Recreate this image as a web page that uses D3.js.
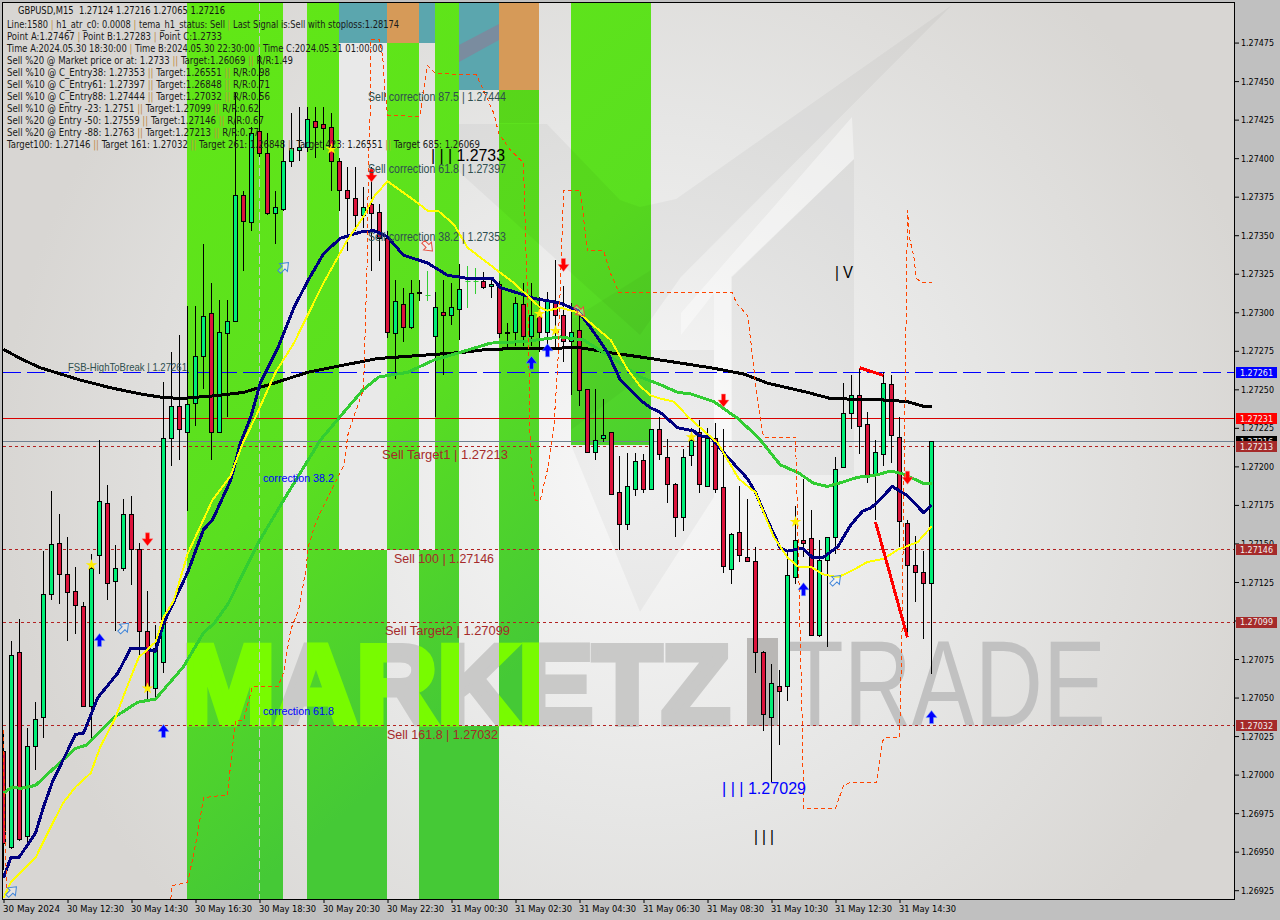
<!DOCTYPE html>
<html><head><meta charset="utf-8">
<script src="https://cdn.jsdelivr.net/npm/d3@7/dist/d3.min.js"></script>
<style>html,body{margin:0;padding:0;background:#c0c0c0;overflow:hidden}svg{display:block}</style>
</head><body><svg id="c" width="1280" height="920"></svg>
<script>
// ---------- DATA ----------
const opens=[1.27015,1.26953,1.27079,1.26960,1.27018,1.27037,1.27117,1.27150,1.27130,1.27119,1.27109,1.27044,1.27142,1.27176,1.27125,1.27134,1.27169,1.27146,1.27093,1.27056,1.27073,1.27218,1.27239,1.27222,1.27241,1.27271,1.27299,1.27222,1.27286,1.27294,1.27376,1.27358,1.27417,1.27403,1.27364,1.27367,1.27398,1.27405,1.27407,1.27424,1.27422,1.27420,1.27398,1.27379,1.27374,1.27363,1.27370,1.27365,1.27348,1.27286,1.27305,1.27290,1.27313,1.27311,1.27284,1.27300,1.27298,1.27302,1.27320,1.27320,1.27320,1.27317,1.27318,1.27286,1.27287,1.27305,1.27284,1.27297,1.27287,1.27306,1.27298,1.27281,1.27288,1.27250,1.27209,1.27218,1.27222,1.27183,1.27162,1.27185,1.27204,1.27185,1.27224,1.27206,1.27188,1.27167,1.27207,1.27222,1.27187,1.27218,1.27186,1.27133,1.27157,1.27141,1.27138,1.27079,1.27037,1.27057,1.27057,1.27128,1.27152,1.27153,1.27090,1.27139,1.27154,1.27199,1.27234,1.27246,1.27227,1.27194,1.27208,1.27253,1.27219,1.27163,1.27136,1.27131,1.27124];
const highs=[1.27029,1.27087,1.27101,1.27030,1.27047,1.27145,1.27184,1.27169,1.27154,1.27135,1.27112,1.27143,1.27217,1.27188,1.27149,1.27179,1.27181,1.27150,1.27119,1.27097,1.27255,1.27274,1.27285,1.27304,1.27304,1.27344,1.27319,1.27308,1.27308,1.27442,1.27379,1.27420,1.27467,1.27416,1.27379,1.27412,1.27429,1.27433,1.27433,1.27433,1.27433,1.27429,1.27400,1.27394,1.27394,1.27381,1.27394,1.27370,1.27353,1.27321,1.27316,1.27321,1.27321,1.27327,1.27313,1.27321,1.27319,1.27331,1.27330,1.27329,1.27326,1.27323,1.27320,1.27293,1.27310,1.27319,1.27319,1.27310,1.27313,1.27334,1.27317,1.27306,1.27300,1.27250,1.27250,1.27244,1.27222,1.27207,1.27209,1.27209,1.27208,1.27224,1.27232,1.27218,1.27189,1.27211,1.27225,1.27230,1.27225,1.27228,1.27224,1.27157,1.27187,1.27179,1.27148,1.27080,1.27072,1.27068,1.27144,1.27174,1.27192,1.27172,1.27152,1.27154,1.27206,1.27254,1.27259,1.27263,1.27235,1.27217,1.27261,1.27259,1.27232,1.27165,1.27155,1.27145,1.27216];
const lows=[1.26938,1.26952,1.26957,1.26956,1.27003,1.27024,1.27113,1.27111,1.27087,1.27091,1.27044,1.27024,1.27130,1.27113,1.27093,1.27132,1.27123,1.27076,1.27049,1.27050,1.27066,1.27200,1.27204,1.27171,1.27226,1.27250,1.27204,1.27222,1.27232,1.27294,1.27327,1.27353,1.27401,1.27363,1.27344,1.27366,1.27394,1.27398,1.27404,1.27400,1.27405,1.27379,1.27366,1.27340,1.27353,1.27355,1.27327,1.27333,1.27283,1.27257,1.27281,1.27289,1.27307,1.27307,1.27232,1.27259,1.27292,1.27282,1.27303,1.27312,1.27315,1.27309,1.27283,1.27276,1.27278,1.27278,1.27278,1.27274,1.27278,1.27276,1.27268,1.27246,1.27239,1.27209,1.27204,1.27216,1.27182,1.27146,1.27159,1.27181,1.27183,1.27185,1.27204,1.27176,1.27154,1.27158,1.27200,1.27183,1.27187,1.27183,1.27131,1.27124,1.27138,1.27138,1.27066,1.27028,1.26995,1.27019,1.27048,1.27124,1.27141,1.27090,1.27089,1.27083,1.27143,1.27199,1.27224,1.27208,1.27189,1.27165,1.27200,1.27202,1.27148,1.27089,1.27112,1.27088,1.27065];
const closes=[1.26955,1.27077,1.26958,1.27018,1.27036,1.27117,1.27149,1.27130,1.27118,1.27110,1.27044,1.27134,1.27177,1.27124,1.27134,1.27169,1.27146,1.27093,1.27057,1.27082,1.27218,1.27239,1.27224,1.27240,1.27271,1.27297,1.27222,1.27287,1.27294,1.27376,1.27359,1.27416,1.27403,1.27364,1.27368,1.27398,1.27406,1.27407,1.27425,1.27420,1.27419,1.27398,1.27379,1.27374,1.27363,1.27368,1.27364,1.27348,1.27287,1.27307,1.27290,1.27312,1.27312,1.27311,1.27303,1.27298,1.27303,1.27315,1.27320,1.27320,1.27316,1.27318,1.27286,1.27287,1.27306,1.27284,1.27298,1.27287,1.27307,1.27298,1.27281,1.27287,1.27249,1.27209,1.27217,1.27220,1.27182,1.27162,1.27187,1.27203,1.27185,1.27224,1.27208,1.27188,1.27167,1.27206,1.27217,1.27188,1.27218,1.27185,1.27135,1.27156,1.27142,1.27138,1.27079,1.27039,1.27059,1.27054,1.27129,1.27152,1.27150,1.27090,1.27139,1.27154,1.27198,1.27234,1.27246,1.27226,1.27193,1.27209,1.27254,1.27220,1.27164,1.27136,1.27131,1.27124,1.27216];

// moving-average knots: bar number and price
const ma200Bar=[0,2.1,4.6,9.6,13.4,17.1,19.6,22.1,26.8,30,33.8,38,41.8,46.8,52.1,57.5,60.5,72.1,75.5,79.6,83.4,88.4,92.5,95.5,100.5,103.4,110.5,113,115,116];
const ma200Val=[1.27276,1.27270,1.27264,1.27256,1.27251,1.27247,1.27245,1.27244,1.27246,1.27248,1.27254,1.27261,1.27265,1.27270,1.27272,1.27274,1.27276,1.27277,1.27274,1.27271,1.27268,1.27264,1.27260,1.27254,1.27248,1.27244,1.27243,1.27242,1.27239,1.27239];
const navyBar=[0,0.9,1.9,4,5,6.1,7.4,9,10,11.8,14.3,15.9,17.5,19,20,23,25,26.1,28.4,29.6,30.9,32.1,34.3,36.3,38,40,42.1,44.6,46.3,48,50,53,55.5,58,61.1,62.1,64.6,66.3,69.6,71.8,73.4,75.5,77.1,79.6,80.9,82.1,84.3,86.3,86.9,88.4,90,93,94,95.5,97.1,98,99.9,101.1,102.5,104.3,105.9,107.4,108.4,109.3,111.1,113,115,116];
const navyVal=[1.26933,1.26946,1.26946,1.26962,1.26979,1.26995,1.27009,1.27026,1.27027,1.27050,1.27066,1.27082,1.27082,1.27080,1.27098,1.27131,1.27159,1.27165,1.27191,1.27215,1.27232,1.27254,1.27277,1.27303,1.27320,1.27338,1.27348,1.27352,1.27353,1.27349,1.27337,1.27332,1.27324,1.27322,1.27322,1.27316,1.27312,1.27309,1.27306,1.27301,1.27290,1.27274,1.27256,1.27243,1.27238,1.27235,1.27225,1.27223,1.27220,1.27219,1.27209,1.27192,1.27183,1.27165,1.27147,1.27145,1.27147,1.27141,1.27141,1.27148,1.27162,1.27171,1.27173,1.27177,1.27187,1.27181,1.27170,1.27175];
const yellowBar=[0,0.9,2.4,4,5.9,7.5,9,10.9,12.1,14,15.3,16.9,19,20,21.3,23,24.6,26.1,28.4,29.9,31.5,34,36.3,40,43,45,46.3,48,51.5,53,54.3,56.3,58,60.5,63.8,67.1,68,69.6,71.8,75.9,78,79.6,80.9,82.1,83.8,85.6,89.3,91.9,94,96.3,98,99.3,100.9,102.4,104.3,106.3,108,110,111.8,114.3,116];
const yellowVal=[1.26920,1.26930,1.26938,1.26946,1.26966,1.26982,1.26992,1.27001,1.27018,1.27037,1.27055,1.27076,1.27086,1.27102,1.27113,1.27143,1.27161,1.27178,1.27194,1.27215,1.27232,1.27261,1.27280,1.27319,1.27347,1.27362,1.27375,1.27385,1.27372,1.27366,1.27366,1.27357,1.27342,1.27332,1.27319,1.27303,1.27301,1.27303,1.27300,1.27282,1.27263,1.27252,1.27246,1.27244,1.27242,1.27232,1.27215,1.27192,1.27183,1.27154,1.27141,1.27135,1.27135,1.27130,1.27128,1.27133,1.27138,1.27140,1.27146,1.27151,1.27161];
const greenBar=[0,1.1,2.1,4,7.1,9,10.3,13.8,16.8,19,22.5,25,26.3,28.1,31.8,35,39.6,43,45,46.9,50.5,53.8,57.1,60.9,65,69.6,72.5,75.9,79.6,82.1,84.3,85.9,88.8,91.8,94.3,97.1,99.3,101.3,103,105,106.8,108.8,110.9,112.5,115,116];
const greenVal=[1.26988,1.26992,1.26991,1.26993,1.27008,1.27017,1.27019,1.27037,1.27047,1.27049,1.27070,1.27092,1.27098,1.27111,1.27150,1.27178,1.27217,1.27238,1.27250,1.27258,1.27261,1.27269,1.27274,1.27280,1.27281,1.27284,1.27282,1.27271,1.27258,1.27253,1.27248,1.27247,1.27242,1.27231,1.27219,1.27201,1.27196,1.27189,1.27187,1.27190,1.27193,1.27194,1.27197,1.27195,1.27189,1.27189];

// stepped stop line (two pieces)
const stopABar=[0,0.1,0.4];
const stopAVal=[1.27029,1.26979,1.26925];
const stopBBar=[20.9,21.1,23,23.8,24.4,25,28,28.4,29,30,31.1,34.3,35,35.9,36.9,37.8,38.1,39,39.6,42.5,43.1,45,45.5,45.6,45.9,45.9,47,47.4,47.6,48,52,52.4,53,54,59.1,60,61.3,61.9,63.4,65,65.3,65.6,65.8,66,66.5,67.1,68,68.8,69.3,69.4,69.9,70,72.1,73,75,75.9,76.9,79.6,91.1,91.6,93,93.4,94,94.4,95,99,99.3,99.6,99.9,100,104,105,105.9,109.1,109.9,110.3,112,112.3,112.5,112.8,113,113.3,113.8,114.1,114.9,116];
const stopBVal=[1.26919,1.26928,1.26930,1.26949,1.26966,1.26985,1.26987,1.27007,1.27035,1.27035,1.27057,1.27057,1.27066,1.27094,1.27107,1.27133,1.27148,1.27163,1.27170,1.27200,1.27222,1.27250,1.27340,1.27394,1.27438,1.27477,1.27477,1.27466,1.27449,1.27428,1.27427,1.27438,1.27460,1.27455,1.27454,1.27444,1.27429,1.27416,1.27405,1.27397,1.27340,1.27297,1.27222,1.27198,1.27178,1.27178,1.27198,1.27226,1.27267,1.27287,1.27362,1.27379,1.27379,1.27340,1.27340,1.27325,1.27313,1.27313,1.27313,1.27306,1.27298,1.27282,1.27254,1.27238,1.27219,1.27219,1.27157,1.27087,1.27022,1.26978,1.26978,1.26993,1.26995,1.26995,1.27022,1.27024,1.27024,1.27087,1.27167,1.27286,1.27366,1.27347,1.27336,1.27322,1.27319,1.27319];

// signals
const sellArrowBar=[18,46,70,90,113];
const sellArrowVal=[1.27153,1.27389,1.27331,1.27243,1.27193];
const buyArrowBar=[12,20,66,68,100,116];
const buyArrowVal=[1.27087,1.27028,1.27267,1.27275,1.27120,1.27037];
const starBar=[11,18,41,67,69,86,99];
const starVal=[1.27136,1.27056,1.27406,1.27299,1.27288,1.27219,1.27164];
const hollowUpBar=[1,15,35,104];
const hollowUpVal=[1.26924,1.27095,1.27329,1.27126];
const hollowDownBar=[53,72];
const hollowDownVal=[1.27343,1.27301];
const trendA=[[107,1.27264],[110,1.27259]];
const trendB=[[109,1.27164],[113,1.27089]];

// levels
const levelVals=[1.27261,1.27231,1.27216,1.27213,1.27146,1.27099,1.27032];
const dashedLevels=[1.27213,1.27146,1.27099,1.27032];

// axes
const priceTicks=[1.27475,1.27450,1.27425,1.27400,1.27375,1.27350,1.27325,1.27300,1.27275,1.27250,1.27225,1.27200,1.27175,1.27150,1.27125,1.27100,1.27075,1.27050,1.27025,1.27000,1.26975,1.26950,1.26925];
const timeBars=[0,8,16,24,32,40,48,56,64,72,80,88,96,104,112];
const timeLabels=["30 May 2024","30 May 12:30","30 May 14:30","30 May 16:30","30 May 18:30","30 May 20:30","30 May 22:30","31 May 00:30","31 May 02:30","31 May 04:30","31 May 06:30","31 May 08:30","31 May 10:30","31 May 12:30","31 May 14:30"];

// text
const infoTitle="GBPUSD,M15  1.27124 1.27216 1.27065 1.27216";
const infoLines=["Line:1580 | h1_atr_c0: 0.0008 | tema_h1_status: Sell | Last Signal is:Sell with stoploss:1.28174",
"Point A:1.27467 | Point B:1.27283 | Point C:1.2733",
"Time A:2024.05.30 18:30:00 | Time B:2024.05.30 22:30:00 | Time C:2024.05.31 01:00:00",
"Sell %20 @ Market price or at: 1.2733 || Target:1.26069 || R/R:1.49",
"Sell %10 @ C_Entry38: 1.27353 || Target:1.26551 || R/R:0.98",
"Sell %10 @ C_Entry61: 1.27397 || Target:1.26848 || R/R:0.71",
"Sell %10 @ C_Entry88: 1.27444 || Target:1.27032 || R/R:0.56",
"Sell %10 @ Entry -23: 1.2751 || Target:1.27099 || R/R:0.62",
"Sell %20 @ Entry -50: 1.27559 || Target:1.27146 || R/R:0.67",
"Sell %20 @ Entry -88: 1.2763 || Target:1.27213 || R/R:0.77",
"Target100: 1.27146 || Target 161: 1.27032 || Target 261: 1.26848 || Target 423: 1.26551 || Target 685: 1.26069"];

// ---------- LAYOUT ----------
const F="'Liberation Sans',Arial,sans-serif";
const C="'DejaVu Sans Condensed','DejaVu Sans',sans-serif";
const L=3,R=1234,T=3,B=899;
const x=d3.scaleLinear().domain([0,116]).range([3.5,931.5]);
const y=d3.scaleLinear().domain([1.27275,1.26925]).range([350.8,890.2]);
const sn=v=>Math.round(v-0.5)+0.5;
const svg=d3.select("#c");
const defs=svg.append("defs");
const rg=defs.append("radialGradient").attr("id","wall").attr("gradientUnits","userSpaceOnUse").attr("cx",640).attr("cy",470).attr("r",640);
rg.append("stop").attr("offset",0).attr("stop-color","#f8f8f8");
rg.append("stop").attr("offset",.55).attr("stop-color","#e6e6e5");
rg.append("stop").attr("offset",1).attr("stop-color","#d8d6d3");
const gg=defs.append("linearGradient").attr("id","band").attr("gradientUnits","userSpaceOnUse").attr("x1",187).attr("y1",0).attr("x2",651).attr("y2",560);
gg.append("stop").attr("offset",0).attr("stop-color","#62e815");
gg.append("stop").attr("offset",.6).attr("stop-color","#5adf20");
gg.append("stop").attr("offset",1).attr("stop-color","#45c936");
const clip=defs.append("clipPath").attr("id","plot");
clip.append("rect").attr("x",L).attr("y",T).attr("width",R-L).attr("height",B-T);

const plot=svg.append("g").attr("clip-path","url(#plot)");
plot.append("rect").attr("x",L).attr("y",T).attr("width",R-L).attr("height",B-T).attr("fill","url(#wall)");

// wallpaper (below bands)
const wm=plot.append("g");
function marketz(g,fill){
  g.append("text").text("MARKETZ").attr("x",182).attr("y",722.5).attr("font-family",F).attr("font-weight",700)
   .attr("font-size",111).attr("textLength",548).attr("lengthAdjust","spacingAndGlyphs").attr("fill",fill)
   .attr("stroke",fill).attr("stroke-width",7).attr("stroke-linejoin","miter");
}
marketz(wm,"#c9c9c8");
wm.append("rect").attr("x",747).attr("y",638).attr("width",31).attr("height",88).attr("fill","#b9b7b5");
wm.append("text").text("TRADE").attr("x",786).attr("y",726).attr("font-family",F).attr("font-size",122)
  .attr("textLength",320).attr("lengthAdjust","spacingAndGlyphs").attr("fill","#c1c1c1");

// time-window bands: [x0,x1,y0,y1,colour]
const G="url(#band)",TE="#5ba6ae",OR="#d69a58";
const bands=[[187,283,T,B,G],[307,339,T,B,G],[339,387,T,43,TE],[339,387,550,B,G],[387,419,T,43,OR],[387,419,43,550,G],
[419,435,T,43,TE],[419,435,550,B,G],[435,459,T,B,G],[459,499,T,90,TE],[459,499,726,B,G],[499,539,T,90,OR],[499,539,90,726,G],[571,651,T,445,G]];
plot.append("rect").attr("x",339).attr("y",43).attr("width",48).attr("height",507).attr("fill","#e9e9e9");
plot.append("g").selectAll("rect").data(bands).join("rect")
  .attr("x",d=>d[0]).attr("y",d=>d[2]).attr("width",d=>d[1]-d[0]).attr("height",d=>d[3]-d[2]).attr("fill",d=>d[4]);
plot.append("polygon").attr("points","459,45 499,24 499,40 459,62").attr("fill","#7a8c9f");
const bc=defs.append("clipPath").attr("id","bandclip");
bc.selectAll("rect").data(bands.filter(d=>d[4]===G)).join("rect")
  .attr("x",d=>d[0]).attr("y",d=>d[2]).attr("width",d=>d[1]-d[0]).attr("height",d=>d[3]-d[2]);
marketz(plot.append("g").attr("clip-path","url(#bandclip)"),"#78fb00");

// wallpaper logo shapes: translucent so they tint both grey and green
const shapes=[
 {p:"952,5 676,199 640,207 620,200 547,124 459,124 459,172 640,335 681,277",o:.035},
 {p:"854,159 854,475 732,475 732,277",o:.04},
 {p:"571,445 640,612 714,497 714,350 651,350 651,445",o:.035},
 {p:"499,90 539,90 539,123 499,123",o:.05},
 {p:"571,320 651,270 651,370 571,430",o:.03}];
plot.append("g").selectAll("polygon").data(shapes).join("polygon").attr("points",d=>d.p).attr("fill","#000").attr("fill-opacity",d=>d.o);
plot.append("polygon").attr("points","681,313 852,117 854,159 731,277 731,440 714,440 714,293 681,335").attr("fill","#fff").attr("fill-opacity",.4);

// separator
plot.append("line").attr("x1",259.5).attr("x2",259.5).attr("y1",T).attr("y2",B).attr("stroke","#c9c9c9").attr("stroke-dasharray","8,3");

// levels
const lv=plot.append("g");
lv.selectAll("line.d").data(dashedLevels).join("line").attr("class","d").attr("x1",L).attr("x2",R)
  .attr("y1",d=>sn(y(d))).attr("y2",d=>sn(y(d))).attr("stroke","#b22222").attr("stroke-dasharray","3,3");
const hline=(v,c,dash)=>lv.append("line").attr("x1",L).attr("x2",R).attr("y1",sn(y(v))).attr("y2",sn(y(v))).attr("stroke",c).attr("stroke-dasharray",dash);
hline(levelVals[2],"#708090",null);
hline(levelVals[1],"#d80000",null);
hline(levelVals[0],"#0000ff","18,6");

// candles
const bars=d3.range(opens.length).map(i=>({i,o:opens[i],h:highs[i],l:lows[i],c:closes[i]}));
const cg=plot.append("g");
bars.forEach(b=>{
  const cx=x(b.i), doji=b.o===b.c;
  cg.append("line").attr("x1",cx).attr("x2",cx).attr("y1",Math.round(y(b.h))).attr("y2",Math.round(y(b.l)))
    .attr("stroke",doji?"#32cd32":"#000");
  if(doji){
    cg.append("line").attr("x1",cx-2).attr("x2",cx+3).attr("y1",sn(y(b.o))).attr("y2",sn(y(b.o))).attr("stroke","#32cd32");
  }else{
    const t=sn(y(Math.max(b.o,b.c))),bo=sn(y(Math.min(b.o,b.c)));
    cg.append("rect").attr("x",cx-2).attr("width",4).attr("y",t).attr("height",Math.max(bo-t,1))
      .attr("fill",b.c>b.o?"#00ee76":"#dc143c").attr("stroke","#000");
  }
});

// lines
const ln=(bs,vs)=>d3.line().x(d=>x(d[0])).y(d=>y(d[1]))(bs.map((b,i)=>[b,vs[i]]));
const lineG=plot.append("g").attr("fill","none").attr("stroke-linejoin","round").attr("shape-rendering","crispEdges");
lineG.append("path").attr("d",ln(ma200Bar,ma200Val)).attr("stroke","#000").attr("stroke-width",3);
lineG.append("path").attr("d",ln(greenBar,greenVal)).attr("stroke","#32cd32").attr("stroke-width",3);
lineG.append("path").attr("d",ln(navyBar,navyVal)).attr("stroke","#000080").attr("stroke-width",3);
lineG.append("path").attr("d",ln(yellowBar,yellowVal)).attr("stroke","#ffff00").attr("stroke-width",2);
lineG.append("path").attr("d",ln(stopABar,stopAVal)).attr("stroke","#ff4500").attr("stroke-dasharray","4,3");
lineG.append("path").attr("d",ln(stopBBar,stopBVal)).attr("stroke","#ff4500").attr("stroke-dasharray","4,3");
[trendA,trendB].forEach(t=>lineG.append("path").attr("d",d3.line().x(d=>x(d[0])).y(d=>y(d[1]))(t)).attr("stroke","#ff0000").attr("stroke-width",3));

// signals
const arrow="M0,-7L5.5,0L2,0L2,6L-2,6L-2,0L-5.5,0Z";
const put=(bs,vs)=>bs.map((b,i)=>[x(b),y(vs[i])]);
const sg=plot.append("g");
sg.selectAll("path.s").data(put(sellArrowBar,sellArrowVal)).join("path").attr("class","s").attr("d",arrow)
  .attr("transform",d=>`translate(${d[0]},${d[1]}) rotate(180)`).attr("fill","#ff0000").attr("stroke","#ff8080").attr("stroke-width",.5);
sg.selectAll("path.b").data(put(buyArrowBar,buyArrowVal)).join("path").attr("class","b").attr("d",arrow)
  .attr("transform",d=>`translate(${d[0]},${d[1]})`).attr("fill","#0000ff").attr("stroke","#70a0ff").attr("stroke-width",.5);
sg.selectAll("path.st").data(put(starBar,starVal)).join("path").attr("class","st").attr("d",d3.symbol(d3.symbolStar,42))
  .attr("transform",d=>`translate(${d[0]},${d[1]})`).attr("fill","#ffee00");
sg.selectAll("path.hu").data(put(hollowUpBar,hollowUpVal)).join("path").attr("class","hu").attr("d",arrow)
  .attr("transform",d=>`translate(${d[0]},${d[1]}) rotate(45)`).attr("fill","rgba(255,255,255,.3)").attr("stroke","#3f84d8");
sg.selectAll("path.hd").data(put(hollowDownBar,hollowDownVal)).join("path").attr("class","hd").attr("d",arrow)
  .attr("transform",d=>`translate(${d[0]},${d[1]}) rotate(135)`).attr("fill","rgba(255,255,255,.3)").attr("stroke","#e85040");

// on-chart labels: [text,x0,x1,yCentre,colour,size]
const labels=[
["FSB-HighToBreak | 1.27261",68,187,367,"#2f4f4f",10.5],
["Sell correction 87.5 | 1.27444",368,506,97,"#2f4f4f",12],
["Sell correction 61.8 | 1.27397",368,506,169,"#2f4f4f",12],
["Sell correction 38.2 | 1.27353",368,506,237,"#2f4f4f",12],
["Sell Target1 | 1.27213",382,508,454,"#a52a2a",13],
["Sell 100 | 1.27146",394,494,558,"#a52a2a",13],
["Sell Target2 | 1.27099",385,510,630,"#a52a2a",13],
["Sell 161.8 | 1.27032",387,498,734,"#a52a2a",13],
["correction 38.2",263,334,478,"#0000ff",11.5],
["correction 61.8",263,334,711,"#0000ff",11.5],
["| | | 1.2733",431,505,155,"#000",16],
["| | | 1.27029",722,806,788,"#0000ff",16],
["| | |",754,774,836,"#000",16],
["| V",835,853,272,"#000",16]];
const tg=plot.append("g");
labels.forEach(d=>{
  tg.append("text").text(d[0]).attr("x",d[1]).attr("y",d[3]).attr("dy",".36em").attr("fill",d[4])
    .attr("font-family",F).attr("font-size",d[5])
    .attr("textLength",d[2]-d[1]).attr("lengthAdjust","spacingAndGlyphs");
});

// info panel
const infoEnds=[399,222,383,293,270,270,270,259,264,259,480];
const infoY=[24,36,48,60,72,84,96,108,120,132,144];
const pg=plot.append("g").attr("font-family",C).attr("font-size",10);
pg.append("text").text(infoTitle).attr("x",18).attr("y",10).attr("dy",".36em").attr("fill","#111")
  .attr("textLength",207).attr("lengthAdjust","spacingAndGlyphs").attr("xml:space","preserve");
infoLines.forEach((s,k)=>{
  const t=pg.append("text").attr("x",7).attr("y",infoY[k]).attr("dy",".36em").attr("fill","#1a1a1a")
    .attr("textLength",infoEnds[k]-7).attr("lengthAdjust","spacingAndGlyphs");
  s.split(/(\|+)/).forEach(part=>t.append("tspan").text(part).attr("fill",part[0]==="|"?"#c08a45":null));
});

// frame
svg.append("rect").attr("x",2.5).attr("y",2.5).attr("width",1232).attr("height",897).attr("fill","none").attr("stroke","#000");

// axes
const ax=svg.append("g").attr("transform","translate(1235,0)").call(d3.axisRight(y).tickValues(priceTicks).tickFormat(d3.format(".5f")).tickSize(4).tickPadding(2));
ax.select(".domain").remove();
ax.selectAll("text").attr("font-family",C).attr("font-size",9.5).attr("fill","#000").attr("textLength",33).attr("lengthAdjust","spacingAndGlyphs");
ax.selectAll("line").attr("stroke","#000");
const bx=svg.append("g").attr("transform","translate(0,900)").call(d3.axisBottom(x).tickValues(timeBars).tickFormat((d,i)=>timeLabels[i]).tickSize(3).tickPadding(2));
bx.select(".domain").remove();
bx.selectAll("text").attr("text-anchor","start").attr("x",-1).attr("font-family",C).attr("font-size",9.5).attr("fill","#000")
  .attr("textLength",57).attr("lengthAdjust","spacingAndGlyphs");
bx.selectAll("line").attr("stroke","#000");

// price flags
const flags=[[levelVals[2],"#000"],[levelVals[0],"#0000ff"],[levelVals[1],"#ff0000"],[levelVals[3],"#a52a2a"],[levelVals[4],"#a52a2a"],[levelVals[5],"#a52a2a"],[levelVals[6],"#a52a2a"]];
const fg=svg.append("g");
flags.forEach(f=>{
  const yy=y(f[0]);
  fg.append("rect").attr("x",1236).attr("y",Math.round(yy-5.5)).attr("width",41).attr("height",11).attr("fill",f[1]);
  fg.append("text").text(d3.format(".5f")(f[0])).attr("x",1240).attr("y",yy).attr("dy",".36em").attr("font-family",C).attr("font-size",9.5).attr("fill","#f0f0f0")
    .attr("textLength",33).attr("lengthAdjust","spacingAndGlyphs");
});
</script></body></html>
